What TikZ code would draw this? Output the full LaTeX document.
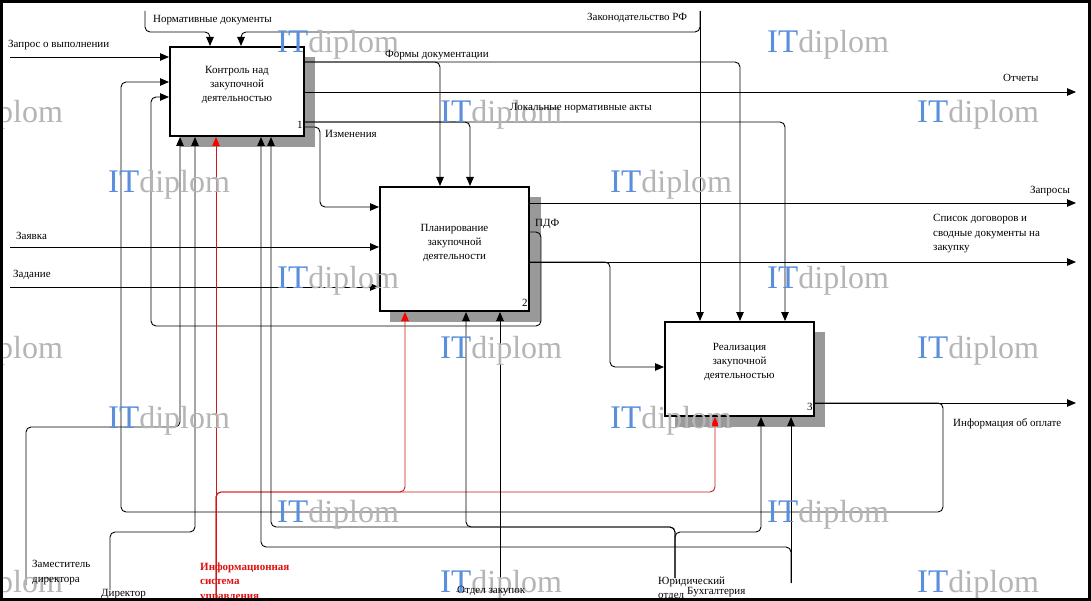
\documentclass[tikz,border=0pt]{standalone}
\usepackage{fontspec}
\setmainfont{Liberation Serif}
\usetikzlibrary{arrows.meta}
\definecolor{wmblue}{HTML}{5A8FDB}
\definecolor{wmgray}{HTML}{B5B5B5}
\definecolor{isred}{HTML}{D01818}
\definecolor{istext}{HTML}{E01010}
\begin{document}
\begin{tikzpicture}[x=1pt,y=-1pt,
  box/.style={draw, line width=2pt, fill=white, inner sep=0pt, outer sep=1pt},
  shadowfill/.style={fill=black!40},
  arr/.style={draw, line width=0.9pt, rounded corners=5pt, -{Triangle[length=9pt,width=7.5pt]}},
  redarr/.style={arr, draw=isred, -{Triangle[length=9pt,width=7.5pt,color=red]}},
  lbl/.style={inner sep=0pt, font=\fontsize{11}{14.5}\selectfont},
  boxtext/.style={inner sep=0pt, align=center, anchor=north, font=\fontsize{11}{14}\selectfont},
  wm/.style={inner sep=0pt, anchor=base west}
]
\useasboundingbox (0,0) rectangle (1091,601);
\fill[white] (0,0) rectangle (1091,601);

% shadows
\fill[shadowfill] (180,57) rectangle (315,147);
\fill[shadowfill] (390,197) rectangle (541,322);
\fill[shadowfill] (675,332) rectangle (825,427);

% boxes
\node[box, minimum width=134pt, minimum height=89pt] (b1) at (237,91.5) {};
\node[box, minimum width=149pt, minimum height=124pt] (b2) at (454.5,249) {};
\node[box, minimum width=149pt, minimum height=94pt] (b3) at (739.5,369) {};
\node[boxtext] (t1) at (237,66.5) {Контроль над\\закупочной\\деятельностью};
\node[boxtext] (t2) at (454.5,224.5) {Планирование\\закупочной\\деятельности};
\node[boxtext] (t3) at (739.5,343) {Реализация\\закупочной\\деятельностью};
\node[lbl, anchor=base west] (n1) at (297,129) {1};
\node[lbl, anchor=base west] (n2) at (522,306) {2};
\node[lbl, anchor=base west] (n3) at (807,410) {3};

% free ends
\coordinate (sZapros) at (10,57);
\coordinate (sNorm) at (145,11);
\coordinate (sZakon) at (700,11);
\coordinate (sZayavka) at (10,247);
\coordinate (sZadanie) at (10,287);
\coordinate (eOtchety) at (1076,92);
\coordinate (eZaprosy) at (1076,203);
\coordinate (eSpisok) at (1076,262);
\coordinate (eInfo) at (1076,403);
\coordinate (sIS) at (216,598);
\coordinate (sZam) at (26,585);
\coordinate (sDir) at (110,590);
\coordinate (sOtdel) at (500,588);
\coordinate (sYur) at (675,578);
\coordinate (sBuh) at (791,583);

% inputs
\draw[arr] (sZapros) -- (b1.west |- sZapros);
\draw[arr] (sZayavka) -- (b2.west |- sZayavka);
\draw[arr] (sZadanie) -- (b2.west |- sZadanie);
% controls
\draw[arr] (sNorm) |- (210,32) -- (210,0 |- b1.north);
\draw[arr] (sZakon) -- (700,0 |- b3.north);
\draw[arr] (sZakon) |- (241,32) -- (241,0 |- b1.north);
\draw[arr] (b1.east |- 0,62) -| (740,0 |- b3.north);
\draw[arr] (b1.east |- 0,62) -| (440,0 |- b2.north);
\draw[arr] (b1.east |- 0,92) -- (eOtchety);
\draw[arr] (b1.east |- 0,122) -| (785,0 |- b3.north);
\draw[arr] (b1.east |- 0,122) -| (470,0 |- b2.north);
\draw[arr] (b1.east |- 0,127) -- (320,127) -- (320,207) -- (b2.west |- 0,207);
% outputs of box 2
\draw[arr] (b2.east |- 0,203) -- (eZaprosy);
\draw[arr] (b2.east |- 0,232) -- (541,232) -- (541,326) -- (151,326) -- (151,97) -- (b1.west |- 0,97);
\draw[arr] (b2.east |- 0,262) -- (eSpisok);
\draw[arr] (b2.east |- 0,262) -- (610,262) -- (610,367) -- (b3.west |- 0,367);
% outputs of box 3
\draw[arr] (b3.east |- 0,403) -- (eInfo);
\draw[arr] (b3.east |- 0,403) -- (943,403) -- (943,512) -- (121,512) -- (121,82) -- (b1.west |- 0,82);
% mechanisms
\draw[redarr] (sIS) -- (216,0 |- b1.south);
\draw[redarr] (sIS) |- (405,492) -- (405,0 |- b2.south);
\draw[redarr] (sIS) |- (715,492) -- (715,0 |- b3.south);
\draw[arr] (sZam) |- (180,427) -- (180,0 |- b1.south);
\draw[arr] (sDir) |- (195,532) -- (195,0 |- b1.south);
\draw[arr] (sOtdel) -- (500,0 |- b2.south);
\draw[arr] (sYur) |- (761,532) -- (761,0 |- b3.south);
\draw[arr] (sYur) |- (271,527) -- (271,0 |- b1.south);
\draw[arr] (sYur) |- (466,527) -- (466,0 |- b2.south);
\draw[arr] (sBuh) -- (791,0 |- b3.south);
\draw[arr] (sBuh) |- (261,547) -- (261,0 |- b1.south);

% watermarks
\begin{scope}
\clip (3,3) rectangle (1087,598);
\foreach \wx/\wy [count=\i] in {277/53,767/53,-59/123,440/123,917/123,108/193,610/193,1088/193,277/288,767/288,-59/358,440/358,917/358,108/428,610/428,1088/428,277/522,767/522,-59/592,440/592,917/592}{
  \node[wm] (wm\i) at (\wx,\wy) {\fontsize{33}{33}\selectfont\textcolor{wmblue}{IT}\fontsize{32}{32}\selectfont\textcolor{wmgray}{diplom}};
}
\end{scope}

% labels
\node[lbl, anchor=base west] (lZapros) at (8,48) {Запрос о выполнении};
\node[lbl, anchor=base west] (lNorm) at (153,23) {Нормативные документы};
\node[lbl, anchor=base west] (lZakon) at (587,21) {Законодательство РФ};
\node[lbl, anchor=base west] (lFormy) at (385,58) {Формы документации};
\node[lbl, anchor=base west] (lOtchety) at (1003,82) {Отчеты};
\node[lbl, anchor=base west] (lLokal) at (510,111) {Локальные нормативные акты};
\node[lbl, anchor=base west] (lIzm) at (325,138) {Изменения};
\node[lbl, anchor=base west] (lZayavka) at (16,240) {Заявка};
\node[lbl, anchor=base west] (lZadanie) at (13,278) {Задание};
\node[lbl, anchor=base west] (lZaprosy) at (1030,194) {Запросы};
\node[lbl, anchor=base west] (lPDF) at (535,227) {ПДФ};
\node[lbl, anchor=north west, align=left] (lSpisok) at (933,214.5) {Список договоров и\\сводные документы на\\закупку};
\node[lbl, anchor=base west] (lInfo) at (953,426) {Информация об оплате};
\node[lbl, anchor=north west, align=left] (lZam) at (32,560.5) {Заместитель\\директора};
\node[lbl, anchor=base west] (lDir) at (101,596) {Директор};
\node[lbl, anchor=north west, align=left, text=istext, font=\fontsize{11}{14.5}\selectfont\bfseries] (lIS) at (200,562.5) {Информационная\\система\\управления};
\node[lbl, anchor=base west] (lOtdel) at (457,593) {Отдел закупок};
\node[lbl, anchor=north west, align=left] (lYur) at (658,576.5) {Юридический\\отдел};
\node[lbl, anchor=base west] (lBuh) at (687,594) {Бухгалтерия};

% frame
\draw[line width=3pt] (1.5,1.5) rectangle (1089.5,599.5);
\end{tikzpicture}
\end{document}
